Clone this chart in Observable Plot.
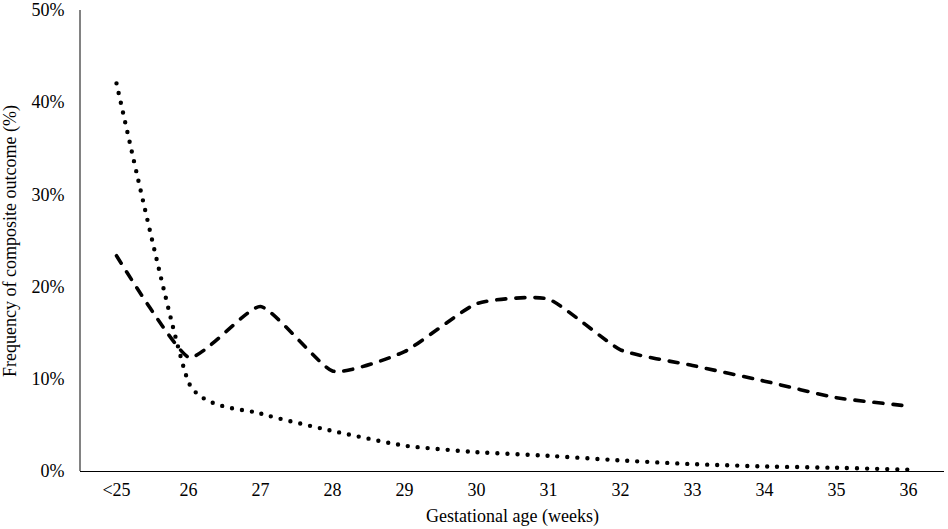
<!DOCTYPE html>
<html>
<head>
<meta charset="utf-8">
<script src="https://cdn.jsdelivr.net/npm/d3@7"></script>
<script src="https://cdn.jsdelivr.net/npm/@observablehq/plot@0.6"></script>
<style>
  html, body { margin: 0; padding: 0; background: #fff; }
</style>
</head>
<body>
<div id="chart"></div>
<script>
const categories = ["<25", "26", "27", "28", "29", "30", "31", "32", "33", "34", "35", "36"];
const dashedValues = [0.234, 0.124, 0.179, 0.109, 0.130, 0.182, 0.187, 0.132, 0.115, 0.098, 0.080, 0.071];
const dottedValues = [0.421, 0.097, 0.063, 0.044, 0.028, 0.021, 0.017, 0.012, 0.008, 0.0055, 0.004, 0.002];
const yTicks = [0, 0.1, 0.2, 0.3, 0.4, 0.5];

const dashed = categories.map((c, i) => ({x: c, y: dashedValues[i]}));
const dotted = categories.map((c, i) => ({x: c, y: dottedValues[i]}));

function leftAxisLine(index, scales, values, dimensions) {
  const g = d3.create("svg:g");
  g.append("line")
    .attr("x1", dimensions.marginLeft)
    .attr("x2", dimensions.marginLeft)
    .attr("y1", scales.y(0.5))
    .attr("y2", scales.y(0))
    .attr("stroke", "#595959")
    .attr("stroke-width", 1.5);
  return g.node();
}

const chart = Plot.plot({
  width: 948,
  height: 529,
  marginLeft: 80,
  marginRight: 4,
  marginTop: 10,
  marginBottom: 58,
  style: {fontFamily: "Liberation Serif, Times New Roman, serif", fontSize: "18px", color: "#000", background: "#fff"},
  x: {type: "point", domain: categories, padding: 0.5},
  y: {domain: [0, 0.5]},
  marks: [
    Plot.axisY({ticks: yTicks, tickFormat: d3.format(".0%"), tickSize: 0, tickPadding: 16,
      label: "Frequency of composite outcome (%)", labelAnchor: "center", labelArrow: "none", fontSize: 18}),
    Plot.axisX({tickSize: 0, tickPadding: 12, label: "Gestational age (weeks)", labelAnchor: "center",
      labelArrow: "none", labelOffset: 50, fontSize: 18}),
    leftAxisLine,
    Plot.ruleY([0], {stroke: "#000", strokeWidth: 1.2}),
    Plot.line(dashed, {x: "x", y: "y", curve: "cardinal", tension: 0.5, stroke: "#000", strokeWidth: 3.6,
      strokeDasharray: "9,10", strokeLinecap: "round"}),
    Plot.line(dotted, {x: "x", y: "y", curve: "cardinal", tension: 0.5, stroke: "#000", strokeWidth: 4.4,
      strokeDasharray: "0,10", strokeLinecap: "round"})
  ]
});
document.getElementById("chart").appendChild(chart);
</script>
</body>
</html>
